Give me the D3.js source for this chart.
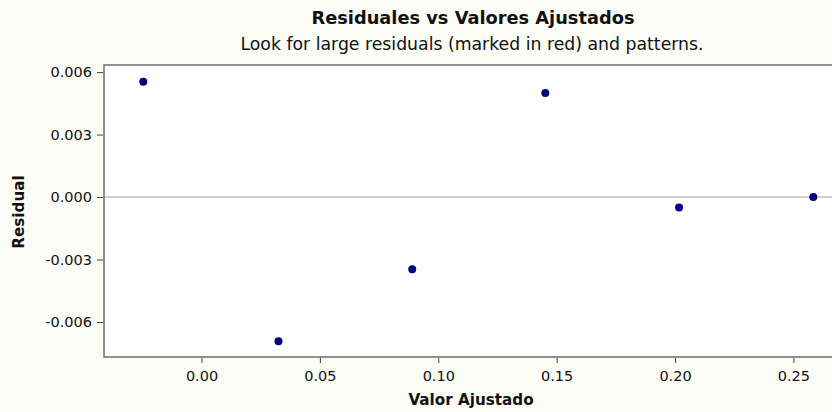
<!DOCTYPE html>
<html>
<head>
<meta charset="utf-8">
<script src="https://cdn.jsdelivr.net/npm/d3@7"></script>
<style>
  html, body { margin: 0; padding: 0; background: #fcfcf6; }
  svg { display: block; }
  text { font-family: "DejaVu Sans", sans-serif; fill: #111; }
</style>
</head>
<body>
<script>
const fittedValues = [-0.0246, 0.0325, 0.0890, 0.1452, 0.2017, 0.2584];
const residuals = [0.00553, -0.00692, -0.00347, 0.00500, -0.00050, 0.00000];
const xTicks = [0.00, 0.05, 0.10, 0.15, 0.20, 0.25];
const yTicks = [0.006, 0.003, 0.000, -0.003, -0.006];
const titleText = "Residuales vs Valores Ajustados";
const subtitleText = "Look for large residuals (marked in red) and patterns.";
const xLabel = "Valor Ajustado";
const yLabel = "Residual";

const W = 832, H = 412;
const pLeft = 104, pRight = 832, pTop = 65, pBottom = 357;
const FONT = '"DejaVu Sans", sans-serif';

const svg = d3.select("body").append("svg").attr("width", W).attr("height", H);

const x = d3.scaleLinear().domain([-0.0412, 0.2663]).range([pLeft, pRight]);
const y = d3.scaleLinear().domain([-0.00768, 0.00634]).range([pBottom, pTop]);

// plot background
svg.append("rect").attr("x", pLeft).attr("y", pTop).attr("width", pRight - pLeft).attr("height", pBottom - pTop).attr("fill", "#ffffff");

// zero reference line
svg.append("line").attr("x1", pLeft).attr("x2", pRight).attr("y1", y(0)).attr("y2", y(0))
  .attr("stroke", "#a0a0a0").attr("stroke-width", 1);

// frame: top, left, bottom
svg.append("path")
  .attr("d", `M${pRight},${pTop}H${pLeft}V${pBottom}H${pRight}`)
  .attr("fill", "none").attr("stroke", "#6e6e6e").attr("stroke-width", 1.5);

const hyphen = (f) => (d) => f(d).replace("\u2212", "-");

// x axis
const xAxis = d3.axisBottom(x).tickValues(xTicks).tickFormat(hyphen(d3.format(".2f"))).tickSize(5).tickPadding(8);
const gx = svg.append("g").attr("transform", `translate(0,${pBottom + 1})`).call(xAxis);
gx.select(".domain").remove();
gx.selectAll(".tick line").attr("stroke", "#444");
gx.selectAll(".tick text").attr("font-size", 14.5).attr("fill", "#111").style("font-family", FONT);

// y axis
const yAxis = d3.axisLeft(y).tickValues(yTicks).tickFormat(hyphen(d3.format(".3f"))).tickSize(6).tickPadding(5);
const gy = svg.append("g").attr("transform", `translate(${pLeft - 1},0)`).call(yAxis);
gy.select(".domain").remove();
gy.selectAll(".tick line").attr("stroke", "#444");
gy.selectAll(".tick text").attr("font-size", 14.5).attr("fill", "#111").style("font-family", FONT);

// points
svg.append("g").selectAll("circle").data(fittedValues).join("circle")
  .attr("cx", (d) => x(d))
  .attr("cy", (d, i) => y(residuals[i]))
  .attr("r", 4)
  .attr("fill", "#000080");

// titles
svg.append("text").attr("x", 473).attr("y", 24).attr("text-anchor", "middle")
  .attr("font-size", 17.8).attr("font-weight", "bold").text(titleText);
svg.append("text").attr("x", 472).attr("y", 50).attr("text-anchor", "middle")
  .attr("font-size", 17.3).text(subtitleText);

// axis labels
svg.append("text").attr("x", 471).attr("y", 405).attr("text-anchor", "middle")
  .attr("font-size", 15.2).attr("font-weight", "bold").attr("fill", "#333").text(xLabel);
svg.append("text").attr("transform", "translate(24,212) rotate(-90)").attr("text-anchor", "middle")
  .attr("font-size", 15.2).attr("font-weight", "bold").attr("fill", "#333").text(yLabel);
</script>
</body>
</html>
